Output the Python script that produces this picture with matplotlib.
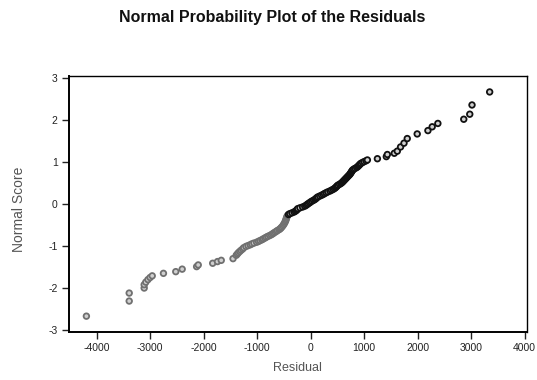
import matplotlib.pyplot as plt

plt.rcParams['font.family'] = ['Liberation Sans', 'DejaVu Sans']

# -----------------------------------
# DATA
# -----------------------------------

residual = [
    -4190, -3390, -3390, -3110, -3110, -3080, -3040, -3000, -2960, -2750,
    -2520, -2400, -2130, -2100, -1830, -1740, -1670, -1450,
    -1390, -1370, -1350, -1325, -1300, -1270, -1250, -1210, -1170, -1130,
    -1100, -1060, -1010, -975, -945, -910, -885, -855, -830, -800,
    -765, -735, -710, -690, -665, -640, -620, -590, -570, -555,
    -540, -520, -505, -490, -478, -468, -460, -452, -445, -435,
    -415, -390, -350, -310, -285, -265, -250, -240, -200, -150,
    -110, -85, -65, -45, -20, 0, 25, 55, 80, 100,
    115, 135, 170, 205, 235, 260, 290, 320, 360, 390,
    420, 445, 465, 480, 495, 510, 540, 565, 585, 600,
    615, 630, 645, 660, 675, 690, 705, 720, 735, 745,
    755, 765, 775, 785, 805, 830, 860, 880, 895, 910,
    925, 940, 970, 1000, 1035,
    1061, 1248, 1415, 1434, 1564, 1620, 1681, 1745, 1806, 1992,
    2192, 2272, 2378, 2862, 2974, 3016, 3346,
]

normal_score = [
    -2.67, -2.31, -2.12, -2.00, -1.92, -1.86, -1.80, -1.75, -1.71, -1.65,
    -1.61, -1.55, -1.49, -1.45, -1.41, -1.37, -1.34, -1.30,
    -1.22, -1.19, -1.16, -1.13, -1.10, -1.07, -1.04, -1.01, -0.99, -0.97,
    -0.95, -0.93, -0.91, -0.89, -0.87, -0.85, -0.83, -0.81, -0.79, -0.77,
    -0.75, -0.73, -0.71, -0.69, -0.67, -0.65, -0.63, -0.61, -0.59, -0.57,
    -0.55, -0.52, -0.49, -0.46, -0.43, -0.40, -0.37, -0.34, -0.31, -0.28,
    -0.25, -0.23, -0.21, -0.19, -0.17, -0.15, -0.13, -0.11, -0.09, -0.07,
    -0.05, -0.03, -0.01, 0.01, 0.03, 0.05, 0.07, 0.09, 0.11, 0.13,
    0.15, 0.17, 0.19, 0.21, 0.23, 0.25, 0.27, 0.29, 0.31, 0.33,
    0.35, 0.37, 0.39, 0.41, 0.43, 0.45, 0.47, 0.49, 0.51, 0.53,
    0.55, 0.57, 0.59, 0.61, 0.63, 0.65, 0.67, 0.69, 0.71, 0.73,
    0.75, 0.77, 0.79, 0.81, 0.83, 0.85, 0.87, 0.89, 0.91, 0.93,
    0.95, 0.97, 0.99, 1.01, 1.03,
    1.05, 1.08, 1.13, 1.18, 1.21, 1.26, 1.36, 1.45, 1.56, 1.67,
    1.75, 1.84, 1.92, 2.02, 2.14, 2.36, 2.67,
]

x_ticks = [-4000, -3000, -2000, -1000, 0, 1000, 2000, 3000, 4000]
y_ticks = [-3, -2, -1, 0, 1, 2, 3]

# lower half of the scan is faded grey, upper half black
colors = ['#707070' if s < -0.25 else '#111111' for s in normal_score]

# -----------------------------------
# PLOT
# -----------------------------------

fig = plt.figure(figsize=(5.37, 3.80), dpi=100)
ax = fig.add_axes([0.128, 0.126, 0.854, 0.674])

ax.scatter(residual, normal_score, s=16, facecolors='#d0d0d0',
           edgecolors=colors, linewidths=1.3, zorder=3)

ax.set_xlim(-4520, 4050)
ax.set_ylim(-3.05, 3.05)
ax.set_xticks(x_ticks)
ax.set_yticks(y_ticks)
ax.set_xticklabels([str(t) for t in x_ticks])
ax.set_yticklabels([str(t) for t in y_ticks])
ax.tick_params(direction='out', length=5, width=1, labelsize=7.5, pad=3,
               colors='#222222')

for side in ['left', 'bottom']:
    ax.spines[side].set_linewidth(1.4)
for side in ['top', 'right']:
    ax.spines[side].set_linewidth(1.0)

fig.text(0.506, 0.955, "Normal Probability Plot of the Residuals",
         ha='center', va='center', fontsize=11.5, fontweight='bold',
         color='#111111')
fig.text(0.553, 0.032, "Residual", ha='center', va='center',
         fontsize=9, color='#555555')
fig.text(0.035, 0.45, "Normal Score", ha='center', va='center',
         rotation=90, fontsize=10, color='#555555')

plt.savefig("out.png", dpi=100)
plt.close()
